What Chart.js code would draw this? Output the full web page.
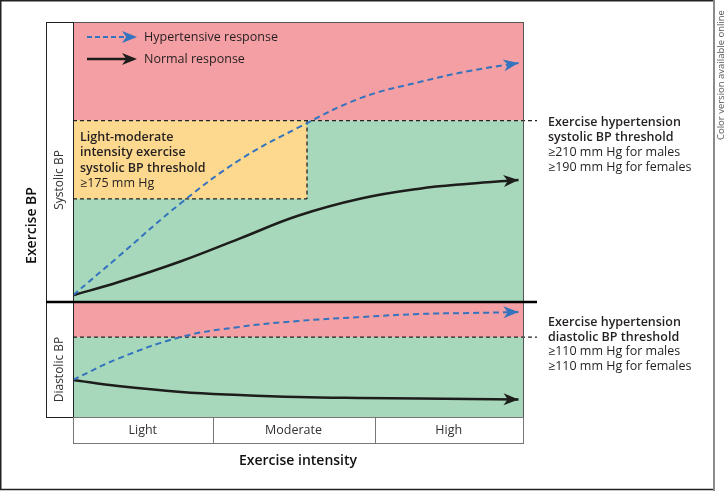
<!DOCTYPE html>
<html>
<head>
<meta charset="utf-8">
<script src="https://cdn.jsdelivr.net/npm/chart.js@4.4.1/dist/chart.umd.min.js"></script>
<style>
  body { margin: 0; background: #fff; }
  #wrap { width: 725px; height: 491px; }
</style>
</head>
<body>
<div id="wrap"><canvas id="bpChart" width="725" height="491"></canvas></div>
<script>
// exercise intensity, 0-100 along the x axis
var levels = ['Light', 'Moderate', 'High'];
var levelBounds = [0, 31, 67, 100];
var intensity = [0, 10, 24, 37, 50, 64, 77, 88, 99];

// systolic BP (mm Hg, schematic)
var sysHyper  = [132, 149.1, 173.2, 192.4, 206.8, 220.1, 227.2, 232.1, 235.7];
var sysNormal = [132, 137.8, 147.2, 157.3, 167.5, 175.2, 179.6, 181.8, 183.5];
// diastolic BP (mm Hg, schematic)
var diaHyper  = [83.2, 96.5, 110.1, 116.4, 120.1, 122.6, 124.5, 125.1, 125.7];
var diaNormal = [83.2, 79.4, 75.7, 73.8, 72.5, 71.9, 71.6, 71.3, 71.0];

var sysThreshold = 210;
var sysLightModerate = 175;
var lightModerateEnd = 52;
var diaThreshold = 110;

var sysNote = ['Exercise hypertension', 'systolic BP threshold', '\u2265210 mm Hg for males', '\u2265190 mm Hg for females'];
var diaNote = ['Exercise hypertension', 'diastolic BP threshold', '\u2265110 mm Hg for males', '\u2265110 mm Hg for females'];
var boxNote = ['Light-moderate', 'intensity exercise', 'systolic BP threshold', '\u2265175 mm Hg'];

var BLUE = '#3473bd';
var BLACK = '#1d1d1b';
var RED = '#f49fa3';
var GREEN = '#a8d8bc';
var YELLOW = '#fdd98f';
var FONT = "'Open Sans', 'Noto Sans', sans-serif";

function pts(ys) {
  return intensity.map(function (x, i) { return { x: x, y: ys[i] }; });
}

function dashedLine(ctx, x1, y1, x2, y2) {
  ctx.save();
  ctx.setLineDash([4, 3]);
  ctx.lineWidth = 1.3;
  ctx.strokeStyle = '#222';
  ctx.beginPath();
  ctx.moveTo(x1, y1);
  ctx.lineTo(x2, y2);
  ctx.stroke();
  ctx.restore();
}

function arrowHead(ctx, x, y, angle, color) {
  var L = 15, w = 6;
  ctx.save();
  ctx.translate(x, y);
  ctx.rotate(angle);
  ctx.fillStyle = color;
  ctx.beginPath();
  ctx.moveTo(0, 0);
  ctx.lineTo(-L, w);
  ctx.lineTo(-L * 0.72, 0);
  ctx.lineTo(-L, -w);
  ctx.closePath();
  ctx.fill();
  ctx.restore();
}

function textLines(ctx, lines, x, y, step, boldCount) {
  lines.forEach(function (t, i) {
    ctx.font = (i < boldCount ? '600 ' : '') + '12.5px ' + FONT;
    ctx.fillText(t, x, y + i * step);
  });
}

function vtext(ctx, t, cx, cy, font, color) {
  ctx.save();
  ctx.translate(cx, cy);
  ctx.rotate(-Math.PI / 2);
  ctx.textAlign = 'center';
  ctx.textBaseline = 'middle';
  ctx.font = font;
  ctx.fillStyle = color;
  ctx.fillText(t, 0, 0);
  ctx.restore();
}

var diagram = {
  id: 'diagram',
  beforeDatasetsDraw: function (chart) {
    var ctx = chart.ctx, a = chart.chartArea;
    var x = chart.scales.x, sy = chart.scales.ySys, dy = chart.scales.yDia;
    var sT = sy.getPixelForValue(sysThreshold);
    var sL = sy.getPixelForValue(sysLightModerate);
    var dT = dy.getPixelForValue(diaThreshold);
    var xL = x.getPixelForValue(lightModerateEnd);
    ctx.save();
    ctx.fillStyle = RED;
    ctx.fillRect(a.left, sy.top, a.width, sT - sy.top);
    ctx.fillRect(a.left, dy.top, a.width, dT - dy.top);
    ctx.fillStyle = GREEN;
    ctx.fillRect(a.left, sT, a.width, sy.bottom - sT);
    ctx.fillRect(a.left, dT, a.width, dy.bottom - dT);
    ctx.fillStyle = YELLOW;
    ctx.fillRect(a.left, sT, xL - a.left, sL - sT);
    ctx.restore();

    dashedLine(ctx, xL, sT, xL, sL);
    dashedLine(ctx, a.left, sL, xL, sL);
    dashedLine(ctx, a.left, sT, a.right + 14, sT);
    dashedLine(ctx, a.left, dT, a.right + 14, dT);

    ctx.save();
    ctx.fillStyle = '#231f20';
    ctx.textBaseline = 'middle';
    ctx.textAlign = 'left';
    textLines(ctx, boxNote, a.left + 7, sT + 17, 15.3, 3);
    ctx.restore();
  },
  afterDatasetsDraw: function (chart) {
    var ctx = chart.ctx, a = chart.chartArea;
    var x = chart.scales.x, sy = chart.scales.ySys, dy = chart.scales.yDia;

    // arrow heads on each curve
    chart.data.datasets.forEach(function (ds, i) {
      var el = chart.getDatasetMeta(i).data;
      var last = el[el.length - 1], prev = el[el.length - 2];
      var px = last.cp1x !== undefined ? last.cp1x : prev.x;
      var py = last.cp1y !== undefined ? last.cp1y : prev.y;
      arrowHead(ctx, last.x, last.y, Math.atan2(last.y - py, last.x - px), ds.borderColor);
    });

    ctx.save();
    // plot and label column borders
    ctx.lineWidth = 1;
    ctx.strokeStyle = '#555';
    ctx.strokeRect(a.left + 0.5, a.top + 0.5, a.width, a.height);
    ctx.strokeStyle = '#222';
    ctx.strokeRect(a.left - 26.5, a.top + 0.5, 27, a.height);
    // category row
    ctx.strokeStyle = '#777';
    ctx.strokeRect(a.left + 0.5, a.bottom + 0.5, a.width, 26);
    levelBounds.slice(1, -1).forEach(function (b) {
      var p = Math.round(x.getPixelForValue(b)) + 0.5;
      ctx.beginPath();
      ctx.moveTo(p, a.bottom);
      ctx.lineTo(p, a.bottom + 26);
      ctx.stroke();
    });
    // divider between systolic and diastolic
    ctx.strokeStyle = '#000';
    ctx.lineWidth = 2.5;
    ctx.beginPath();
    ctx.moveTo(a.left - 27, sy.bottom);
    ctx.lineTo(a.right + 14, sy.bottom);
    ctx.stroke();

    // outer frame
    ctx.lineWidth = 1.5;
    ctx.strokeStyle = '#222';
    ctx.beginPath();
    ctx.moveTo(713, 0.75);
    ctx.lineTo(0.75, 0.75);
    ctx.lineTo(0.75, 489.5);
    ctx.lineTo(713, 489.5);
    ctx.stroke();
    ctx.strokeStyle = '#8a8a8a';
    ctx.lineWidth = 2;
    ctx.beginPath();
    ctx.moveTo(714, 0);
    ctx.lineTo(714, 491);
    ctx.stroke();

    // legend
    var lx = a.left + 14, ly = a.top + 15;
    ctx.lineWidth = 2;
    ctx.strokeStyle = BLUE;
    ctx.setLineDash([5, 3]);
    ctx.beginPath();
    ctx.moveTo(lx, ly);
    ctx.lineTo(lx + 44, ly);
    ctx.stroke();
    ctx.setLineDash([]);
    arrowHead(ctx, lx + 50, ly, 0, BLUE);
    ctx.lineWidth = 2.5;
    ctx.strokeStyle = BLACK;
    ctx.beginPath();
    ctx.moveTo(lx, ly + 22);
    ctx.lineTo(lx + 44, ly + 22);
    ctx.stroke();
    arrowHead(ctx, lx + 50, ly + 22, 0, BLACK);
    ctx.fillStyle = '#231f20';
    ctx.textBaseline = 'middle';
    ctx.textAlign = 'left';
    ctx.font = '12.5px ' + FONT;
    ctx.fillText('Hypertensive response', lx + 57, ly);
    ctx.fillText('Normal response', lx + 57, ly + 22);

    // threshold notes on the right
    var sT = sy.getPixelForValue(sysThreshold);
    var dT = dy.getPixelForValue(diaThreshold);
    textLines(ctx, sysNote, a.right + 25, sT + 2, 14.8, 2);
    textLines(ctx, diaNote, a.right + 25, dT - 15, 14.8, 2);

    // vertical labels
    vtext(ctx, 'Systolic BP', a.left - 13.5, (sy.top + sy.bottom) / 2 + 18, '12px ' + FONT, '#333');
    vtext(ctx, 'Diastolic BP', a.left - 13.5, (dy.top + dy.bottom) / 2 + 10, '12px ' + FONT, '#333');
    vtext(ctx, 'Exercise BP', 32, (a.top + a.bottom) / 2 + 6, '600 14px ' + FONT, '#111');

    ctx.translate(721, 140);
    ctx.rotate(-Math.PI / 2);
    ctx.textAlign = 'left';
    ctx.font = '9.5px ' + FONT;
    ctx.fillStyle = '#555';
    ctx.fillText('Color version available online', 0, 0);
    ctx.restore();
  }
};

var mids = levels.map(function (l, i) { return (levelBounds[i] + levelBounds[i + 1]) / 2; });

Chart.defaults.font.family = FONT;

new Chart(document.getElementById('bpChart'), {
  type: 'line',
  data: {
    datasets: [
      { label: 'Hypertensive response', data: pts(sysHyper), yAxisID: 'ySys', borderColor: BLUE, borderWidth: 2, borderDash: [6, 4] },
      { label: 'Normal response', data: pts(sysNormal), yAxisID: 'ySys', borderColor: BLACK, borderWidth: 2.5 },
      { label: 'Hypertensive response', data: pts(diaHyper), yAxisID: 'yDia', borderColor: BLUE, borderWidth: 2, borderDash: [6, 4] },
      { label: 'Normal response', data: pts(diaNormal), yAxisID: 'yDia', borderColor: BLACK, borderWidth: 2.5 }
    ]
  },
  options: {
    responsive: false,
    animation: false,
    devicePixelRatio: 1,
    layout: { padding: { left: 46, top: 22, right: 202, bottom: 0 } },
    elements: {
      point: { radius: 0, hoverRadius: 0 },
      line: { tension: 0.4, fill: false }
    },
    plugins: { legend: { display: false }, tooltip: { enabled: false } },
    scales: {
      x: {
        type: 'linear',
        min: 0,
        max: 100,
        afterBuildTicks: function (s) { s.ticks = mids.map(function (v) { return { value: v }; }); },
        afterFit: function (s) { s.height = 74; },
        ticks: {
          autoSkip: false,
          maxRotation: 0,
          padding: 6,
          color: '#333',
          font: { size: 12.5 },
          callback: function (v, i) { return levels[i]; }
        },
        grid: { display: false, drawTicks: false },
        border: { display: false },
        title: { display: true, text: 'Exercise intensity', color: '#111', font: { size: 14, weight: '600' }, padding: { top: 0, bottom: 22 } }
      },
      // the stack is laid out bottom-up, so the diastolic panel is listed first
      yDia: {
        type: 'linear',
        position: 'left',
        stack: 'bp',
        stackWeight: 115,
        min: 60,
        max: 132,
        afterFit: function (s) { s.width = 27; },
        ticks: { display: false },
        grid: { display: false, drawTicks: false },
        border: { display: false }
      },
      ySys: {
        type: 'linear',
        position: 'left',
        stack: 'bp',
        stackWeight: 280,
        min: 129,
        max: 254,
        afterFit: function (s) { s.width = 27; },
        ticks: { display: false },
        grid: { display: false, drawTicks: false },
        border: { display: false }
      }
    }
  },
  plugins: [diagram]
});
</script>
</body>
</html>
